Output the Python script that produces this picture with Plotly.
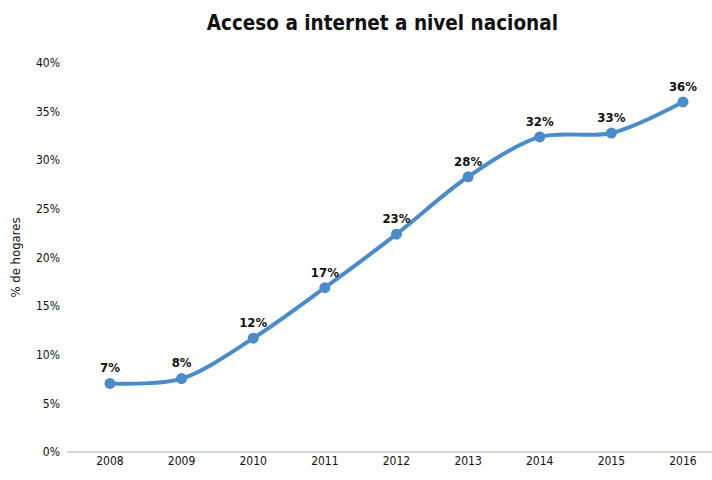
import plotly.graph_objects as go

years = [2008, 2009, 2010, 2011, 2012, 2013, 2014, 2015, 2016]
values = [7.05, 7.55, 11.7, 16.9, 22.4, 28.3, 32.4, 32.8, 36.0]
labels = ["7%", "8%", "12%", "17%", "23%", "28%", "32%", "33%", "36%"]
y_ticks = [0, 5, 10, 15, 20, 25, 30, 35, 40]
y_tick_labels = [f"{v}%" for v in y_ticks]

font_fam = "DejaVu Sans Condensed, sans-serif"

fig = go.Figure()
fig.add_trace(go.Scatter(
    x=years, y=values, mode="lines+markers+text",
    text=[f"<b>{t}</b>" for t in labels], textposition="top center",
    textfont=dict(family=font_fam, size=13, color="#111111"),
    line=dict(color="#4A8CCB", width=4, shape="spline", smoothing=0.9),
    marker=dict(color="#4A8CCB", size=11),
    cliponaxis=False, hoverinfo="skip",
))

fig.update_layout(
    width=712, height=480,
    margin=dict(l=67, r=0, t=63, b=28),
    paper_bgcolor="white", plot_bgcolor="white",
    showlegend=False,
    title=dict(text="<b>Acceso a internet a nivel nacional</b>", x=0.537, xanchor="center",
               y=0.952, yanchor="middle",
               font=dict(family=font_fam, size=20.5, color="#111111")),
    xaxis=dict(range=[2007.4, 2016.405], tickvals=years, ticktext=[str(y) for y in years],
               showgrid=False, zeroline=False, showline=False, ticks="",
               tickfont=dict(family=font_fam, size=12, color="#111111")),
    yaxis=dict(range=[0, 40], tickvals=y_ticks, ticktext=y_tick_labels,
               showgrid=False, zeroline=True, zerolinecolor="#D9D9D9", zerolinewidth=2,
               showline=False, ticks="", ticklabelstandoff=6,
               tickfont=dict(family=font_fam, size=12, color="#111111"),
               title=dict(text="% de hogares", standoff=12,
                          font=dict(family=font_fam, size=13, color="#111111"))),
)

fig.write_html("out.html")
